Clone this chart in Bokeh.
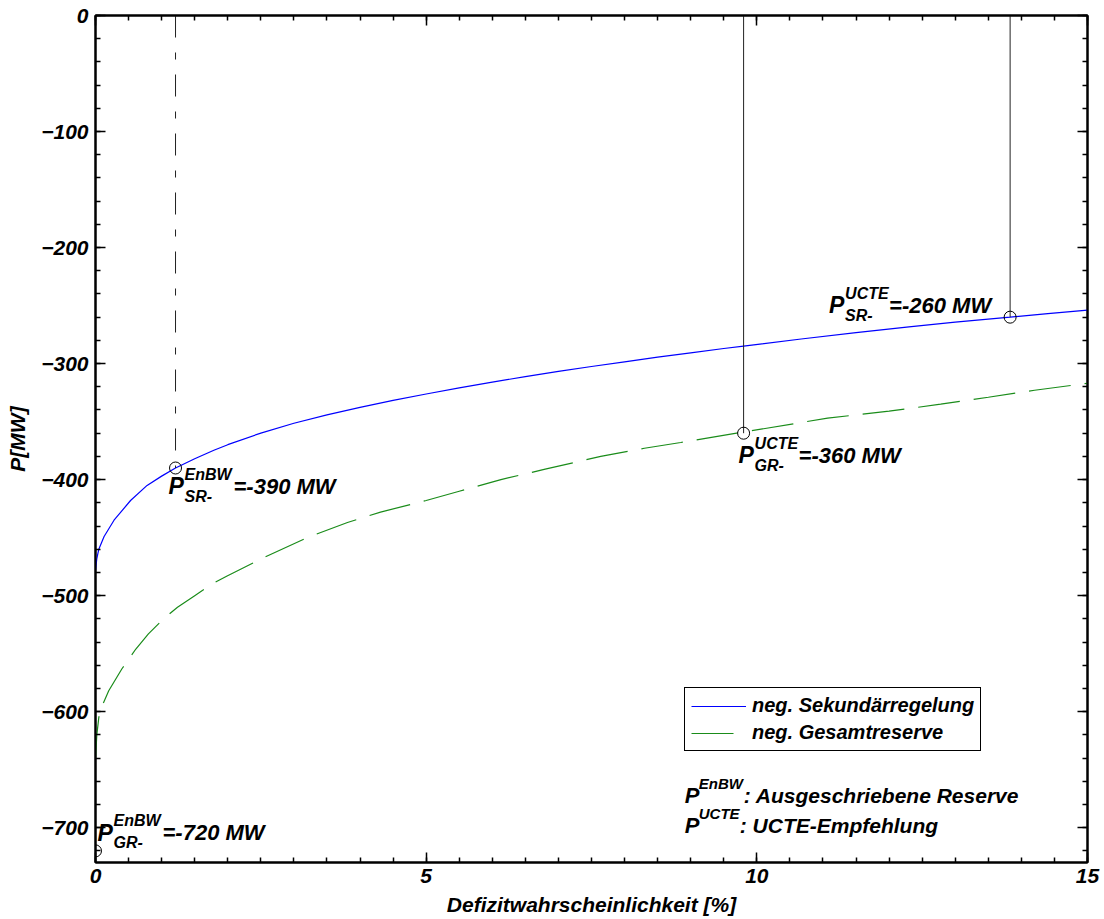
from bokeh.plotting import figure
from bokeh.models import (Range1d, LinearAxis, SingleIntervalTicker, Label, Legend,
                          LegendItem, CustomJSTickFormatter)
from bokeh.embed import file_html
from bokeh.resources import INLINE

# ---- data ----
sr_x = [0.0, 0.02, 0.05, 0.13, 0.28, 0.53, 0.78, 1.0, 1.21, 1.5, 1.79, 2.0, 2.5, 3.0, 3.5,
        4.0, 4.5, 5.0, 5.5, 6.0, 6.5, 7.0, 7.5, 8.0, 8.5, 9.0, 9.5, 9.8, 10.67, 11.5,
        12.3, 13.0, 13.83, 14.4, 15.0]
sr_p = [-478, -468, -460, -449, -435, -418, -405, -397, -390, -382, -374.7, -369.9, -359.9,
        -351.4, -344.2, -337.7, -331.7, -326.2, -321, -316, -311.2, -306.7, -302.5, -298.5,
        -294.5, -290.7, -287, -284.9, -278.8, -273.4, -268.4, -264.2, -260, -257, -254]

gr_x = [0.0, 0.02, 0.05, 0.1, 0.2, 0.4, 0.61, 0.8, 1.03, 1.24, 1.5, 1.76, 1.99, 2.55, 3.2,
        3.81, 4.31, 5.0, 5.5, 6.13, 6.8, 7.64, 8.3, 8.85, 9.8, 11.07, 12.0, 12.78, 13.5,
        14.2, 15.0]
gr_p = [-640, -620, -605, -595, -582, -563, -546, -533, -520, -510, -500, -490, -483, -467, -450,
        -437, -428, -418, -410, -400, -391, -380, -373, -368, -359, -347, -341, -335, -329,
        -323, -317]

ann_x = [1.21, 9.8, 13.83, 0.0]
ann_y = [-390, -360, -260, -720]
ann_sup = ["EnBW", "UCTE", "UCTE", "EnBW"]
ann_sub = ["SR-", "GR-", "SR-", "GR-"]
ann_val = ["=-390 MW", "=-360 MW", "=-260 MW", "=-720 MW"]

x_label = "Defizitwahrscheinlichkeit [%]"
y_label = "P[MW]"
legend_labels = ["neg. Sekundärregelung", "neg. Gesamtreserve"]
note_sup = ["EnBW", "UCTE"]
note_txt = [": Ausgeschriebene Reserve", ": UCTE-Empfehlung"]

FONT = "Liberation Sans"
STYLE = "bold italic"

p = figure(width=1104, height=919, x_range=Range1d(0, 15), y_range=Range1d(-730, 0),
           output_backend="svg", toolbar_location=None,
           min_border_left=95, min_border_right=17, min_border_top=15, min_border_bottom=57)
p.grid.visible = False
p.outline_line_color = "black"
p.outline_line_width = 2
p.background_fill_color = "white"
p.border_fill_color = "white"

p.xaxis.ticker = SingleIntervalTicker(interval=5, num_minor_ticks=10)
p.yaxis.ticker = SingleIntervalTicker(interval=100, num_minor_ticks=5)

def style_axis(ax):
    ax.axis_line_color = "black"
    ax.axis_line_width = 2
    ax.major_tick_in = 10
    ax.major_tick_out = 0
    ax.minor_tick_in = 5
    ax.minor_tick_out = 0
    ax.major_tick_line_color = "black"
    ax.minor_tick_line_color = "black"
    ax.major_tick_line_width = 1.5
    ax.minor_tick_line_width = 1.5
    ax.major_label_text_font = FONT
    ax.major_label_text_font_style = STYLE
    ax.major_label_text_font_size = "21px"
    ax.major_label_text_color = "black"
    ax.axis_label_text_font = FONT
    ax.axis_label_text_font_style = STYLE
    ax.axis_label_text_font_size = "21px"
    ax.axis_label_text_color = "black"

for ax in p.xaxis + p.yaxis:
    style_axis(ax)
p.xaxis.axis_label = x_label
p.yaxis.axis_label = y_label
p.xaxis.major_label_standoff = 6
p.xaxis.axis_label_standoff = 7
p.yaxis.major_label_standoff = 7
p.yaxis.axis_label_standoff = 9

blank = CustomJSTickFormatter(code="return ''")
top_ax = LinearAxis(ticker=SingleIntervalTicker(interval=5, num_minor_ticks=10), formatter=blank)
right_ax = LinearAxis(ticker=SingleIntervalTicker(interval=100, num_minor_ticks=5), formatter=blank)
for ax in (top_ax, right_ax):
    style_axis(ax)
    ax.major_label_standoff = 0
p.add_layout(top_ax, "above")
p.add_layout(right_ax, "right")

# curves
blue = p.line(sr_x, sr_p, line_color="#0000ff", line_width=1.2)
green = p.line(gr_x, gr_p, line_color="#1a8c1a", line_width=1.2, line_dash="42 14")

# vertical marker lines
p.segment(x0=ann_x[0:1], y0=[0], x1=ann_x[0:1], y1=ann_y[0:1], line_color="#222222",
          line_width=1, line_dash="22 15 7 15")
p.segment(x0=ann_x[1:3], y0=[0, 0], x1=ann_x[1:3], y1=ann_y[1:3], line_color="#222222",
          line_width=1)
p.scatter(ann_x, ann_y, marker="circle", size=12, fill_color=None, line_color="black",
          line_width=1)

# annotations: P, superscript, subscript, value
P_dx = [-7, -5, -181, 2]
P_dy = [18, 22, -12, -18]   # screen px, positive = downward
V_dx = [65, 60, 60, 65]
for i in range(4):
    common = dict(x=ann_x[i], y=ann_y[i], text_font=FONT, text_font_style=STYLE,
                  text_color="black", text_align="left", text_baseline="alphabetic")
    p.add_layout(Label(text="P", x_offset=P_dx[i], y_offset=-P_dy[i],
                       text_font_size="23px", **common))
    p.add_layout(Label(text=ann_sup[i], x_offset=P_dx[i] + 16, y_offset=-(P_dy[i] - 12),
                       text_font_size="16px", **common))
    p.add_layout(Label(text=ann_sub[i], x_offset=P_dx[i] + 16, y_offset=-(P_dy[i] + 10),
                       text_font_size="16px", **common))
    p.add_layout(Label(text=ann_val[i], x_offset=P_dx[i] + V_dx[i], y_offset=-P_dy[i],
                       text_font_size="22px", **common))

# legend
legend = Legend(items=[LegendItem(label=legend_labels[0], renderers=[blue]),
                       LegendItem(label=legend_labels[1], renderers=[green])],
                location=(589, 111))
legend.border_line_color = "black"
legend.border_line_alpha = 1
legend.border_line_width = 1.5
legend.background_fill_color = "white"
legend.background_fill_alpha = 1
legend.label_text_font = FONT
legend.label_text_font_style = STYLE
legend.label_text_font_size = "20px"
legend.label_text_color = "black"
legend.glyph_width = 55
legend.glyph_height = 18
legend.label_height = 18
legend.spacing = 4
legend.padding = 6
legend.margin = 0
legend.label_standoff = 6
p.add_layout(legend)

# notes below the legend
note_anchor_x = 8.91
note_anchor_y = [-672, -698]
sup_w = [44, 40]
for i in range(2):
    common = dict(x=note_anchor_x, y=note_anchor_y[i], text_font=FONT, text_font_style=STYLE,
                  text_color="black", text_align="left", text_baseline="alphabetic")
    p.add_layout(Label(text="P", text_font_size="22px", **common))
    p.add_layout(Label(text=note_sup[i], x_offset=14, y_offset=12, text_font_size="15px", **common))
    p.add_layout(Label(text=note_txt[i], x_offset=15 + sup_w[i], text_font_size="21px", **common))

open("out.html", "w").write(file_html(p, INLINE))
